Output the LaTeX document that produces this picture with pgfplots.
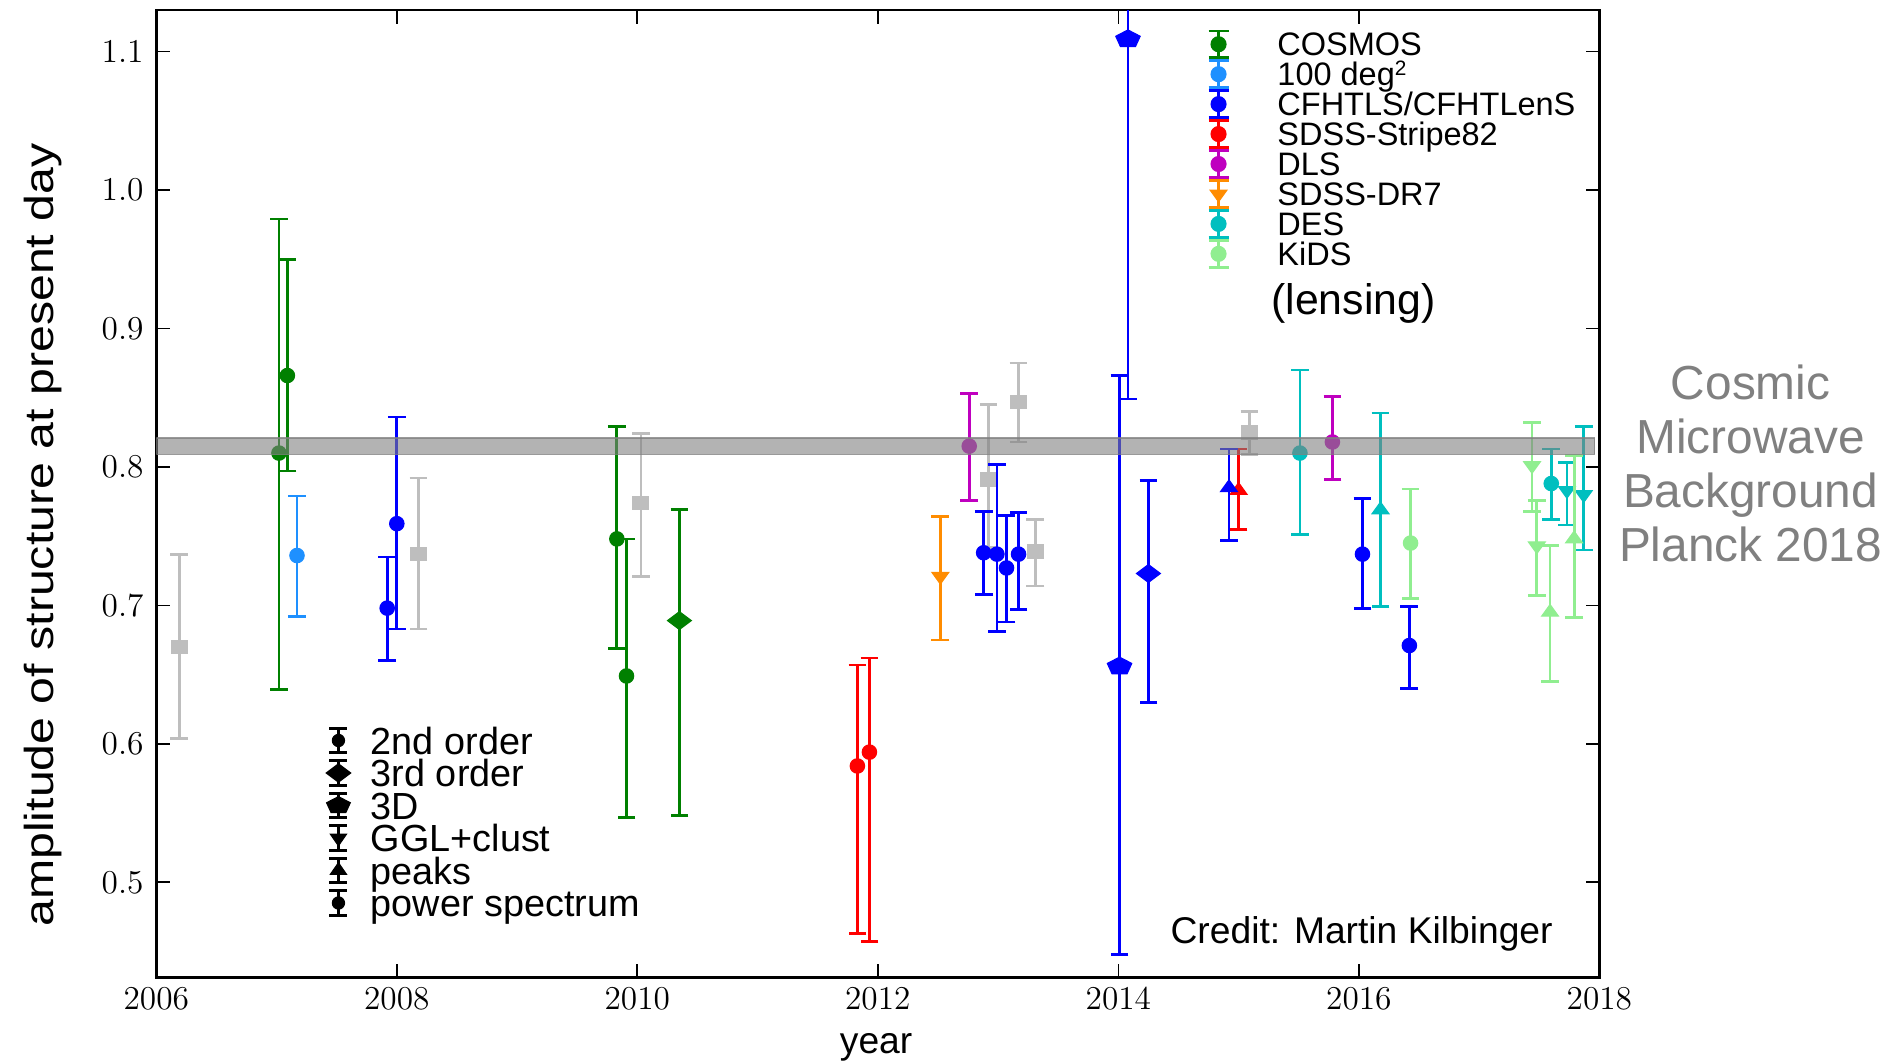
\documentclass[border=0pt]{standalone}
\usepackage{fontspec}
\setmainfont{Liberation Sans}
\usepackage{graphicx}
\usepackage{pgfplots}
\pgfplotsset{compat=1.18}
\definecolor{cosmos}{RGB}{0,128,0}
\definecolor{degc}{RGB}{30,144,255}
\definecolor{cfht}{RGB}{0,0,255}
\definecolor{sdss}{RGB}{255,0,0}
\definecolor{dls}{RGB}{191,0,191}
\definecolor{dr7}{RGB}{255,140,0}
\definecolor{des}{RGB}{0,191,191}
\definecolor{kids}{RGB}{144,238,144}
\definecolor{other}{RGB}{190,190,190}
\definecolor{cmb}{RGB}{128,128,128}
\pgfplotsset{
  ser/.style={only marks, color=#1,
    error bars/y dir=both, error bars/y explicit,
    error bars/error bar style={line width=1pt, #1},
    error bars/error mark options={rotate=90, #1, line width=1pt, mark size=3.2pt, solid}},
}
\begin{document}
\begin{tikzpicture}
\begin{axis}[
  scale only axis, width=519.5pt, height=348.4pt,
  xmin=2006, xmax=2018, ymin=0.431, ymax=1.130,
  xtick={2006,2008,2010,2012,2014,2016,2018},
  ytick={0.5,0.6,0.7,0.8,0.9,1.0,1.1},
  xticklabel style={/pgf/number format/1000 sep={}},
  yticklabel style={/pgf/number format/fixed, /pgf/number format/fixed zerofill, /pgf/number format/precision=1, xshift=-1.1pt},
  tick label style={font=\fontsize{12.5}{15}\selectfont, black},
  tick align=inside, major tick length=5pt,
  tick style={black, line width=0.6pt},
  axis line style={black, line width=1pt},
  clip mode=individual,
]
\coordinate (SW) at (rel axis cs:0,0);
% other probes (grey squares)
\addplot[ser=other, mark=square*, mark size=2.4pt, mark options={solid, xscale=1.2}]
 table[row sep=\\, y error plus=ep, y error minus=em] {x y ep em\\
 2006.19 0.670 0.067 0.066\\ 2008.18 0.737 0.055 0.054\\ 2010.03 0.774 0.050 0.053\\
 2012.92 0.791 0.054 0.049\\ 2013.17 0.847 0.028 0.029\\ 2013.31 0.739 0.023 0.025\\
 2015.09 0.825 0.015 0.016\\};
% COSMOS
\addplot[ser=cosmos, mark=*, mark size=2.6pt]
 table[row sep=\\, y error plus=ep, y error minus=em] {x y ep em\\
 2007.02 0.810 0.169 0.171\\ 2007.09 0.866 0.084 0.069\\ 2009.83 0.748 0.081 0.079\\
 2009.91 0.649 0.099 0.102\\};
\addplot[ser=cosmos, mark=diamond*, mark size=4.3pt, mark options={solid, rotate=90}]
 table[row sep=\\, y error plus=ep, y error minus=em] {x y ep em\\
 2010.35 0.689 0.080 0.141\\};
% 100 deg2
\addplot[ser=degc, mark=*, mark size=2.6pt]
 table[row sep=\\, y error plus=ep, y error minus=em] {x y ep em\\
 2007.17 0.736 0.043 0.044\\};
% SDSS Stripe82
\addplot[ser=sdss, mark=*, mark size=2.6pt]
 table[row sep=\\, y error plus=ep, y error minus=em] {x y ep em\\
 2011.83 0.584 0.073 0.121\\ 2011.93 0.594 0.068 0.137\\};
\addplot[ser=sdss, mark=triangle*, mark size=2.8pt, mark options={solid, xscale=1.25}]
 table[row sep=\\, y error plus=ep, y error minus=em] {x y ep em\\
 2015.00 0.783 0.030 0.028\\};
% SDSS-DR7
\addplot[ser=dr7, mark=triangle*, mark size=2.8pt, mark options={solid, rotate=180, xscale=1.25}]
 table[row sep=\\, y error plus=ep, y error minus=em] {x y ep em\\
 2012.52 0.721 0.043 0.046\\};
% DLS
\addplot[ser=dls, mark=*, mark size=2.6pt]
 table[row sep=\\, y error plus=ep, y error minus=em] {x y ep em\\
 2012.76 0.815 0.038 0.039\\ 2015.78 0.818 0.033 0.027\\};
% CFHTLS
\addplot[ser=cfht, mark=*, mark size=2.6pt]
 table[row sep=\\, y error plus=ep, y error minus=em] {x y ep em\\
 2007.92 0.698 0.037 0.038\\ 2008.00 0.759 0.077 0.076\\ 2012.88 0.738 0.030 0.030\\
 2012.99 0.737 0.065 0.056\\ 2013.07 0.727 0.038 0.039\\ 2013.17 0.737 0.030 0.040\\
 2016.03 0.737 0.040 0.039\\ 2016.42 0.671 0.028 0.031\\};
\addplot[ser=cfht, mark=pentagon*, mark size=3.3pt, mark options={solid, xscale=1.4}]
 table[row sep=\\, y error plus=ep, y error minus=em] {x y ep em\\
 2014.01 0.656 0.210 0.208\\ 2014.08 1.109 0.260 0.260\\};
\addplot[ser=cfht, mark=diamond*, mark size=4.3pt, mark options={solid, rotate=90}]
 table[row sep=\\, y error plus=ep, y error minus=em] {x y ep em\\
 2014.25 0.723 0.067 0.093\\};
\addplot[ser=cfht, mark=triangle*, mark size=2.8pt, mark options={solid, xscale=1.25}]
 table[row sep=\\, y error plus=ep, y error minus=em] {x y ep em\\
 2014.92 0.785 0.028 0.038\\};
% DES
\addplot[ser=des, mark=*, mark size=2.6pt]
 table[row sep=\\, y error plus=ep, y error minus=em] {x y ep em\\
 2015.51 0.810 0.060 0.059\\ 2017.60 0.788 0.025 0.026\\};
\addplot[ser=des, mark=triangle*, mark size=2.8pt, mark options={solid, xscale=1.25}]
 table[row sep=\\, y error plus=ep, y error minus=em] {x y ep em\\
 2016.18 0.769 0.070 0.070\\};
\addplot[ser=des, mark=triangle*, mark size=2.8pt, mark options={solid, rotate=180, xscale=1.25}]
 table[row sep=\\, y error plus=ep, y error minus=em] {x y ep em\\
 2017.73 0.783 0.020 0.025\\ 2017.87 0.780 0.049 0.040\\};
% KiDS
\addplot[ser=kids, mark=*, mark size=2.6pt]
 table[row sep=\\, y error plus=ep, y error minus=em] {x y ep em\\
 2016.43 0.745 0.039 0.040\\};
\addplot[ser=kids, mark=triangle*, mark size=2.8pt, mark options={solid, rotate=180, xscale=1.25}]
 table[row sep=\\, y error plus=ep, y error minus=em] {x y ep em\\
 2017.44 0.801 0.031 0.033\\ 2017.48 0.743 0.033 0.036\\};
\addplot[ser=kids, mark=triangle*, mark size=2.8pt, mark options={solid, xscale=1.25}]
 table[row sep=\\, y error plus=ep, y error minus=em] {x y ep em\\
 2017.59 0.695 0.048 0.050\\ 2017.79 0.748 0.060 0.057\\};
% CMB band
\addplot[mark=none, draw=cmb, line width=0.5pt, fill=cmb, fill opacity=0.6, draw opacity=0.8]
 coordinates {(2006,0.809) (2017.96,0.809) (2017.96,0.821) (2006,0.821)} -- cycle;
% texts
\node[anchor=base west, inner sep=0pt, font=\fontsize{13.4}{16}\selectfont] at (rel axis cs:0.7025,0.0357) {Credit: Martin Kilbinger};
\node[anchor=base west, inner sep=0pt, font=\fontsize{15.4}{18}\selectfont] at (rel axis cs:0.7723,0.6855) {(lensing)};
\node[align=center, anchor=center, text=cmb, font=\fontsize{17.2}{19.4}\selectfont] at (rel axis cs:1.1048,0.5316) {Cosmic\\Microwave\\Background\\Planck 2018};
\node[rotate=90, anchor=base, inner sep=0pt, font=\fontsize{14.6}{16}\selectfont] at (rel axis cs:-0.0714,0.4575) {\scalebox{1.19}[1]{amplitude of structure at present day}};
\node[anchor=base, inner sep=0pt, font=\fontsize{13.4}{16}\selectfont] at (rel axis cs:0.4988,-0.0777) {year};
\end{axis}
% legend of surveys
\begin{axis}[
  scale only axis, width=519.5pt, height=348.4pt, hide axis,
  xmin=0, xmax=1, ymin=0, ymax=1,
  legend cell align=left,
  legend style={at={(0.7282,0.9801)}, anchor=north west, draw=none, fill=none,
    inner sep=0pt, outer sep=0pt, row sep=0pt, column sep=17.1pt,
    font=\fontsize{11.7}{13}\selectfont,
    nodes={inner sep=0pt, outer sep=0pt, text height=9.59pt, text depth=1.19pt}},
  legend image code/.code={
    \path[draw=none, fill=none] (-3.8pt,-5.39pt) rectangle (3.8pt,5.39pt);
    \draw[#1, line width=1pt, solid, fill=none] (0,-4.8pt) -- (0,4.8pt) (-3.6pt,-4.8pt) -- (3.6pt,-4.8pt) (-3.6pt,4.8pt) -- (3.6pt,4.8pt);
    \draw[#1] plot[only marks] coordinates {(0,0)};
  },
]
\addlegendimage{cosmos, mark=*, mark size=2.7pt, mark options={solid}}
\addlegendentry{COSMOS}
\addlegendimage{degc, mark=*, mark size=2.7pt, mark options={solid}}
\addlegendentry{100 deg{\fontsize{7.5}{8}\selectfont\raisebox{3.6pt}{2}}}
\addlegendimage{cfht, mark=*, mark size=2.7pt, mark options={solid}}
\addlegendentry{CFHTLS/CFHTLenS}
\addlegendimage{sdss, mark=*, mark size=2.7pt, mark options={solid}}
\addlegendentry{SDSS-Stripe82}
\addlegendimage{dls, mark=*, mark size=2.7pt, mark options={solid}}
\addlegendentry{DLS}
\addlegendimage{dr7, mark=triangle*, mark size=2.8pt, mark options={solid, rotate=180, xscale=1.25}}
\addlegendentry{SDSS-DR7}
\addlegendimage{des, mark=*, mark size=2.7pt, mark options={solid}}
\addlegendentry{DES}
\addlegendimage{kids, mark=*, mark size=2.7pt, mark options={solid}}
\addlegendentry{KiDS}
\end{axis}
% legend of methods
\begin{axis}[
  scale only axis, width=519.5pt, height=348.4pt, hide axis,
  xmin=0, xmax=1, ymin=0, ymax=1,
  legend cell align=left,
  legend style={at={(0.1166,0.2620)}, anchor=north west, draw=none, fill=none,
    inner sep=0pt, outer sep=0pt, row sep=0pt, column sep=6.7pt,
    font=\fontsize{13.6}{15}\selectfont,
    nodes={inner sep=0pt, outer sep=0pt, text height=10.72pt, text depth=0.98pt}},
  legend image code/.code={
    \path[draw=none, fill=none] (-5pt,-5.85pt) rectangle (5pt,5.85pt);
    \draw[#1, line width=1pt, solid, fill=none] (0,-4.4pt) -- (0,4.4pt) (-3.25pt,-4.4pt) -- (3.25pt,-4.4pt) (-3.25pt,4.4pt) -- (3.25pt,4.4pt);
    \draw[#1] plot[only marks] coordinates {(0,0)};
  },
]
\addlegendimage{black, mark=*, mark size=2.2pt, mark options={solid}}
\addlegendentry{2nd order}
\addlegendimage{black, mark=diamond*, mark size=4.4pt, mark options={solid, rotate=90}}
\addlegendentry{3rd order}
\addlegendimage{black, mark=pentagon*, mark size=3.2pt, mark options={solid, xscale=1.4}}
\addlegendentry{3D}
\addlegendimage{black, mark=triangle*, mark size=2.8pt, mark options={solid, rotate=180, xscale=1.2}}
\addlegendentry{GGL+clust}
\addlegendimage{black, mark=triangle*, mark size=2.8pt, mark options={solid, xscale=1.2}}
\addlegendentry{peaks}
\addlegendimage{black, mark=*, mark size=2.2pt, mark options={solid}}
\addlegendentry{power spectrum}
\end{axis}
\pgfresetboundingbox
\path[use as bounding box] (SW) ++(-56.27pt,-30.67pt) rectangle ++(680.04pt,382.68pt);
\end{tikzpicture}
\end{document}
